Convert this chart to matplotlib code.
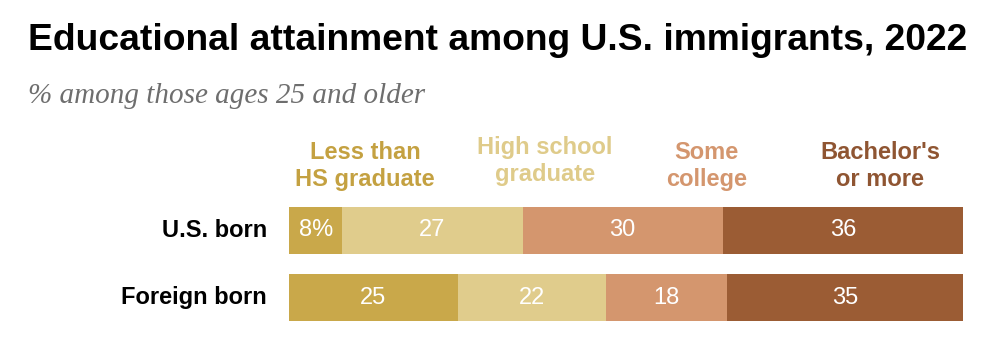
import matplotlib.pyplot as plt
from matplotlib import font_manager
import numpy as np

# data
groups = ["U.S. born", "Foreign born"]
categories = ["Less than\nHS graduate", "High school\ngraduate", "Some\ncollege", "Bachelor's\nor more"]
us_born = [8, 27, 30, 36]
foreign_born = [25, 22, 18, 35]
value_labels = [["8%", "27", "30", "36"], ["25", "22", "18", "35"]]

bar_colors = ["#C9A84A", "#E0CC8C", "#D4966E", "#9B5C34"]
label_colors = ["#C4A141", "#DFCB8A", "#D4966E", "#8F5532"]

# pick a narrow font for the title if one is there
installed = set(f.name for f in font_manager.fontManager.ttflist)
title_font = "Liberation Sans"
title_size = 26.8
for name, size in [("Liberation Sans Narrow", 28), ("DejaVu Sans Condensed", 25)]:
    if name in installed:
        title_font = name
        title_size = size
        break

fig = plt.figure(figsize=(10.06, 3.56), dpi=100)
ax = fig.add_axes([289 / 1006, 25 / 356, 674 / 1006, 134 / 356])

rows = [us_born, foreign_born]
for i, row in enumerate(rows):
    total = float(sum(row))
    widths = [v / total * 100 for v in row]
    left = 0
    for j, w in enumerate(widths):
        ax.barh(i, w, left=left, height=0.7, color=bar_colors[j], edgecolor="none")
        ax.text(left + w / 2, i, value_labels[i][j], ha="center", va="center",
                color="white", fontsize=17, family="Liberation Sans")
        left += w

ax.set_xlim(0, 100)
ax.set_ylim(1.5, -0.5)
ax.axis("off")

for i, g in enumerate(groups):
    ax.text(-3.3, i, g, ha="right", va="center", fontsize=17, fontweight="bold",
            color="black", family="Liberation Sans")

# category labels above the bars
label_x = [11.3, 38.0, 62.0, 87.7]
label_y = [-0.96, -1.04, -0.96, -0.96]
for j, c in enumerate(categories):
    ax.text(label_x[j], label_y[j], c, ha="center", va="center", fontsize=17,
            fontweight="bold", color=label_colors[j], family="Liberation Sans",
            linespacing=1.25, clip_on=False)

fig.text(28 / 1006, 1 - 40 / 356, "Educational attainment among U.S. immigrants, 2022",
         ha="left", va="center", fontsize=title_size, fontweight="bold",
         family=title_font, color="black")
fig.text(28 / 1006, 1 - 96 / 356, "% among those ages 25 and older",
         ha="left", va="center", fontsize=21, style="italic",
         family="Liberation Serif", color="#6E6E6E")

fig.savefig("out.png", dpi=100)
